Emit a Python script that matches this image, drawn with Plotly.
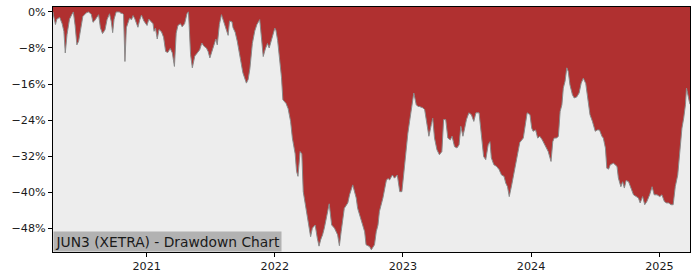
import plotly.graph_objects as go

dates = [
    "2020-04-09", "2020-04-10", "2020-04-16", "2020-04-20", "2020-04-28", "2020-05-05", "2020-05-10",
    "2020-05-14", "2020-05-19", "2020-05-26", "2020-06-02", "2020-06-06", "2020-06-11", "2020-06-16",
    "2020-06-21", "2020-06-28", "2020-07-03", "2020-07-13", "2020-07-19", "2020-07-27", "2020-08-01",
    "2020-08-05", "2020-08-11", "2020-08-17", "2020-08-22", "2020-08-28", "2020-09-04", "2020-09-10",
    "2020-09-17", "2020-09-22", "2020-09-26", "2020-09-30", "2020-10-06", "2020-10-16", "2020-10-19",
    "2020-10-23", "2020-10-27", "2020-10-31", "2020-11-04", "2020-11-09", "2020-11-13", "2020-11-19",
    "2020-11-23", "2020-11-28", "2020-12-02", "2020-12-07", "2020-12-12", "2020-12-17", "2020-12-24",
    "2020-12-28",
    "2021-01-02", "2021-01-07", "2021-01-14", "2021-01-19", "2021-01-22", "2021-01-26", "2021-01-31",
    "2021-02-05", "2021-02-12", "2021-02-18", "2021-02-24", "2021-03-02", "2021-03-09", "2021-03-15",
    "2021-03-21", "2021-03-26", "2021-03-31", "2021-04-07", "2021-04-12", "2021-04-19", "2021-04-26",
    "2021-04-30", "2021-05-02", "2021-05-06", "2021-05-11", "2021-05-18", "2021-05-24", "2021-06-01",
    "2021-06-07", "2021-06-13", "2021-06-20", "2021-06-25", "2021-06-30", "2021-07-05", "2021-07-11",
    "2021-07-17", "2021-07-21", "2021-07-27", "2021-08-02", "2021-08-08", "2021-08-14", "2021-08-21",
    "2021-08-25", "2021-09-01", "2021-09-04", "2021-09-10", "2021-09-16", "2021-09-23", "2021-10-02",
    "2021-10-12", "2021-10-17", "2021-10-22", "2021-10-29", "2021-11-05", "2021-11-11", "2021-11-19",
    "2021-11-23", "2021-11-29", "2021-12-05", "2021-12-11", "2021-12-16", "2021-12-22", "2021-12-29",
    "2022-01-01", "2022-01-04", "2022-01-09", "2022-01-14", "2022-01-20", "2022-01-24", "2022-01-29",
    "2022-02-02", "2022-02-08", "2022-02-15", "2022-02-20", "2022-02-25", "2022-02-28", "2022-03-04",
    "2022-03-08", "2022-03-14", "2022-03-19", "2022-03-23", "2022-03-30", "2022-04-06", "2022-04-13",
    "2022-04-18", "2022-04-26", "2022-05-02", "2022-05-07", "2022-05-12", "2022-05-17", "2022-05-22",
    "2022-05-27", "2022-06-01", "2022-06-05", "2022-06-12", "2022-06-20", "2022-06-29", "2022-07-04",
    "2022-07-09", "2022-07-18", "2022-07-28", "2022-08-02", "2022-08-11", "2022-08-21", "2022-08-25",
    "2022-09-04", "2022-09-14", "2022-09-18", "2022-09-23", "2022-09-28", "2022-10-03", "2022-10-07",
    "2022-10-12", "2022-10-17", "2022-10-22", "2022-10-26", "2022-11-05", "2022-11-15", "2022-11-20",
    "2022-11-24", "2022-12-02", "2022-12-08", "2022-12-16", "2022-12-23", "2022-12-29",
    "2023-01-03", "2023-01-10", "2023-01-15", "2023-01-20", "2023-01-26", "2023-02-01", "2023-02-08",
    "2023-02-13", "2023-02-17", "2023-02-27", "2023-03-04", "2023-03-08", "2023-03-16", "2023-03-23",
    "2023-03-27", "2023-04-01", "2023-04-08", "2023-04-15", "2023-04-22", "2023-04-27", "2023-05-03",
    "2023-05-09", "2023-05-16", "2023-05-21", "2023-05-28", "2023-06-04", "2023-06-10", "2023-06-15",
    "2023-06-21", "2023-06-26", "2023-07-01", "2023-07-08", "2023-07-15", "2023-07-22", "2023-07-28",
    "2023-08-06", "2023-08-13", "2023-08-19", "2023-08-25", "2023-09-01", "2023-09-06", "2023-09-10",
    "2023-09-17", "2023-09-25", "2023-10-02", "2023-10-09", "2023-10-16", "2023-10-21", "2023-10-26",
    "2023-10-31", "2023-11-07", "2023-11-14", "2023-11-23", "2023-11-30", "2023-12-10", "2023-12-15",
    "2023-12-21", "2023-12-29",
    "2024-01-03", "2024-01-07", "2024-01-14", "2024-01-20", "2024-01-26", "2024-02-02", "2024-02-10",
    "2024-02-19", "2024-02-27", "2024-03-03", "2024-03-07", "2024-03-14", "2024-03-19", "2024-03-24",
    "2024-03-29", "2024-04-02", "2024-04-07", "2024-04-12", "2024-04-16", "2024-04-21", "2024-04-28",
    "2024-05-03", "2024-05-10", "2024-05-17", "2024-05-23", "2024-05-29", "2024-06-05", "2024-06-11",
    "2024-06-17", "2024-06-24", "2024-07-02", "2024-07-08", "2024-07-14", "2024-07-21", "2024-07-25",
    "2024-07-29", "2024-07-31", "2024-08-04", "2024-08-09", "2024-08-14", "2024-08-23", "2024-09-02",
    "2024-09-06", "2024-09-13", "2024-09-18", "2024-09-23", "2024-09-28", "2024-10-05", "2024-10-13",
    "2024-10-19", "2024-10-27", "2024-11-02", "2024-11-07", "2024-11-14", "2024-11-20", "2024-11-26",
    "2024-12-04", "2024-12-11", "2024-12-17", "2024-12-25",
    "2025-01-02", "2025-01-08", "2025-01-15", "2025-01-21", "2025-01-27", "2025-02-03", "2025-02-09",
    "2025-02-15", "2025-02-22", "2025-02-27", "2025-03-06", "2025-03-11", "2025-03-16", "2025-03-19",
    "2025-03-22", "2025-03-27", "2025-03-29",
]

drawdown_pct = [
    0.0, -0.6, -2.8, -1.6, -1.2, -2.6, -4.3,
    -9.1, -5.0, -1.6, -0.5, 0.0, -3.0, -7.3,
    -6.5, -3.4, -1.0, -0.2, 0.0, -0.5, -2.3,
    -2.0, -1.2, -0.6, -3.5, -4.8, -4.0, -1.7,
    -0.4, -2.1, -4.6, -1.6, 0.0, 0.0, -0.3,
    -0.3, -0.6, -11.0, -3.5, -2.5, -1.4, -1.7,
    -0.8, -1.5, -2.6, -3.4, -1.8, -0.7, -2.0,
    -2.4,
    -3.0, -1.6, -2.1, -2.6, -4.3, -3.6, -6.0,
    -3.9, -4.4, -5.6, -8.8, -9.0, -8.1, -9.1,
    -12.1, -4.7, -3.0, -2.6, -3.3, -2.6, -0.3,
    0.0, -3.0, -9.5, -12.4, -9.8, -9.2, -8.4,
    -6.9, -7.6, -8.0, -8.8, -10.2, -8.8, -7.6,
    -6.0, -7.3, -2.8, -0.6, -2.2, -3.9, -5.2,
    -2.0, -2.2, -3.5, -4.5, -6.5, -9.7, -13.5,
    -15.8, -15.0, -12.6, -7.0, -4.2, -2.8, -1.7,
    -4.5, -9.9, -8.2, -7.0, -8.0, -6.2, -4.6,
    -3.6, -4.0, -6.3, -10.0, -14.5, -19.5, -19.9,
    -20.3, -21.5, -24.3, -28.0, -30.0, -31.5, -35.4,
    -36.5, -31.0, -31.5, -39.9, -43.6, -46.5, -49.9,
    -48.0, -47.3, -50.2, -52.0, -50.5, -49.5, -48.0,
    -45.8, -44.3, -42.6, -47.3, -48.0, -49.5, -51.9,
    -48.8, -43.6, -42.4, -40.6, -38.4, -41.3, -43.6,
    -46.5, -48.8, -51.7, -52.0, -52.1, -52.8, -52.3,
    -51.7, -48.8, -47.3, -44.3, -41.3, -37.3, -37.0,
    -37.3, -36.2, -36.9, -36.2, -39.9, -39.9,
    -36.2, -30.2, -27.0, -24.3, -20.6, -18.0, -20.6,
    -21.0, -21.0, -21.3, -21.7, -23.6, -27.6, -25.0,
    -23.6, -28.0, -30.6, -31.7, -31.0, -23.9, -23.9,
    -28.0, -28.4, -27.6, -29.9, -30.2, -29.5, -25.4,
    -27.6, -25.8, -23.9, -22.4, -22.8, -24.3, -22.4,
    -22.4, -27.3, -32.1, -32.8, -29.5, -28.8, -32.4,
    -33.9, -34.3, -35.0, -36.2, -36.5, -38.0, -38.8,
    -41.0, -38.4, -35.4, -32.4, -29.0, -28.0, -25.0,
    -22.4, -22.8,
    -25.8, -26.5, -26.2, -28.0, -27.6, -28.4, -29.5,
    -31.0, -33.2, -28.8, -28.0, -28.0, -27.6, -22.1,
    -20.6, -16.9, -15.4, -12.4, -13.2, -16.2, -18.4,
    -19.1, -18.9, -18.0, -15.8, -14.7, -15.9, -19.9,
    -22.8, -24.3, -26.5, -26.2, -26.2, -27.6, -28.0,
    -29.5, -30.2, -34.7, -34.9, -33.9, -33.6, -34.3,
    -36.9, -38.8, -37.7, -39.1, -37.4, -37.7, -39.5,
    -40.6, -41.0, -41.3, -42.4, -41.0, -42.8, -42.1,
    -40.6, -38.8, -40.6, -40.6,
    -41.0, -40.6, -42.1, -42.4, -42.4, -42.8, -42.8,
    -38.8, -36.2, -31.3, -25.8, -23.6, -20.6, -16.9,
    -18.4, -19.9, -20.5,
]

y_tick_values = [0, -8, -16, -24, -32, -40, -48]
y_tick_labels = ["0%", "\u22128%", "\u221216%", "\u221224%", "\u221232%", "\u221240%", "\u221248%"]
x_tick_years = ["2021", "2022", "2023", "2024", "2025"]
title_text = "JUN3 (XETRA) - Drawdown Chart"

dd = [v / 100 for v in drawdown_pct]
y_top = 0.011
y_bottom = -0.533

fig = go.Figure()
fig.add_trace(go.Scatter(
    x=dates, y=[y_top] * len(dates), mode="lines",
    line=dict(width=0, color="rgba(0,0,0,0)"), hoverinfo="skip", showlegend=False,
))
fig.add_trace(go.Scatter(
    x=dates, y=dd, mode="lines", fill="tonexty", fillcolor="#b03030",
    line=dict(color="#8a8a8a", width=1), showlegend=False,
))

fig.update_layout(
    width=700, height=280,
    margin=dict(l=53, r=10, t=7, b=28),
    paper_bgcolor="white", plot_bgcolor="#ededed",
    font=dict(family="DejaVu Sans", size=11.2, color="#1a1a1a"),
    annotations=[dict(
        text=title_text, xref="paper", yref="paper", x=0, y=0,
        xanchor="left", yanchor="bottom", showarrow=False,
        font=dict(family="DejaVu Sans", size=13.8, color="#1a1a1a"),
        bgcolor="#b2b2b2", borderpad=1.5,
    )],
)
fig.update_xaxes(
    type="date", range=[dates[0], dates[-1]],
    tickvals=[y + "-01-01" for y in x_tick_years], ticktext=x_tick_years,
    ticks="outside", ticklen=4, tickcolor="black", tickwidth=1,
    showgrid=False, zeroline=False,
    showline=True, linecolor="black", linewidth=1, mirror=True,
)
fig.update_yaxes(
    range=[y_bottom, y_top],
    tickvals=[v / 100 for v in y_tick_values], ticktext=y_tick_labels,
    ticks="outside", ticklen=4, tickcolor="black", tickwidth=1,
    showgrid=False, zeroline=False,
    showline=True, linecolor="black", linewidth=1, mirror=True,
)

fig.write_html("out.html")
